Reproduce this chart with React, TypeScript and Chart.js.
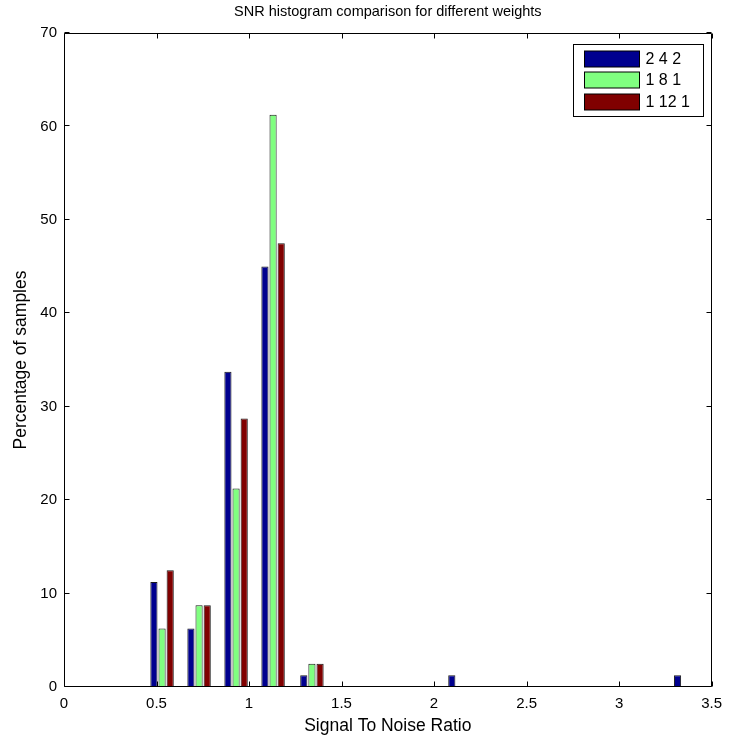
import React, { useEffect, useRef } from 'react';
import { Chart, registerables } from 'chart.js';

Chart.register(...registerables);

// Histogram bin centres (Signal To Noise Ratio)
const binCenters = [0.53, 0.73, 0.93, 1.13, 1.34, 1.54, 1.74, 1.94, 2.14, 2.34, 2.55, 2.75, 2.95, 3.15, 3.36];

// Percentage of samples per bin for each weight set
const weights242 = [11.25, 6.25, 33.75, 45, 1.25, 0, 0, 0, 1.25, 0, 0, 0, 0, 0, 1.25];
const weights181 = [6.25, 8.75, 21.25, 61.25, 2.5, 0, 0, 0, 0, 0, 0, 0, 0, 0, 0];
const weights1121 = [12.5, 8.75, 28.75, 47.5, 2.5, 0, 0, 0, 0, 0, 0, 0, 0, 0, 0];

const seriesLabels = ['2 4 2', '1 8 1', '1 12 1'];
const seriesColors = ['#00008F', '#80FF80', '#800000'];

const xTickValues = [0, 0.5, 1, 1.5, 2, 2.5, 3, 3.5];
const yTickValues = [0, 10, 20, 30, 40, 50, 60, 70];

const chartTitle = 'SNR histogram comparison for different weights';
const xTitle = 'Signal To Noise Ratio';
const yTitle = 'Percentage of samples';

const FONT = '"Liberation Sans", Arial, sans-serif';

const matlabAxesPlugin = {
  id: 'matlabAxes',
  afterDatasetsDraw(chart: any) {
    const { ctx, chartArea, scales } = chart;
    const { left, right, top, bottom } = chartArea;
    const xs = scales.x;
    const ys = scales.y;
    ctx.save();
    ctx.strokeStyle = '#000';
    ctx.lineWidth = 1;
    const L = Math.floor(left) + 0.5;
    const R = Math.ceil(right) - 0.5;
    const T = Math.floor(top) + 0.5;
    const B = Math.ceil(bottom) - 0.5;
    ctx.beginPath();
    ctx.rect(L, T, R - L, B - T);
    ctx.stroke();
    const tl = 5;
    ctx.beginPath();
    xTickValues.forEach((v) => {
      const px = Math.round(xs.getPixelForValue(v)) + 0.5;
      ctx.moveTo(px, B);
      ctx.lineTo(px, B - tl);
      ctx.moveTo(px, T);
      ctx.lineTo(px, T + tl);
    });
    yTickValues.forEach((v) => {
      const py = Math.round(ys.getPixelForValue(v)) - 0.5;
      ctx.moveTo(L, py);
      ctx.lineTo(L + tl, py);
      ctx.moveTo(R, py);
      ctx.lineTo(R - tl, py);
    });
    ctx.stroke();
    ctx.restore();
  },
  afterDraw(chart: any) {
    const { ctx, chartArea } = chart;
    const { left, right, top, bottom } = chartArea;
    ctx.save();
    ctx.fillStyle = '#000';
    ctx.textAlign = 'center';
    ctx.textBaseline = 'middle';
    const cx = (left + right) / 2;
    ctx.font = `14.5px ${FONT}`;
    ctx.fillText(chartTitle, cx, 12);
    ctx.font = `17.5px ${FONT}`;
    ctx.fillText(xTitle, cx, 726);
    ctx.save();
    ctx.translate(21, (top + bottom) / 2);
    ctx.rotate(-Math.PI / 2);
    ctx.fillText(yTitle, 0, 0);
    ctx.restore();

    // legend box
    const boxW = 130;
    const boxH = 72;
    const bx = Math.round(right - 9 - boxW) + 0.5;
    const by = Math.round(top + 11) + 0.5;
    ctx.fillStyle = '#fff';
    ctx.fillRect(bx, by, boxW, boxH);
    ctx.strokeStyle = '#000';
    ctx.lineWidth = 1;
    ctx.strokeRect(bx, by, boxW, boxH);
    ctx.font = `16px ${FONT}`;
    chart.data.datasets.forEach((ds: any, i: number) => {
      const sy = by + 6 + i * 21.7;
      const sx = bx + 11;
      ctx.fillStyle = ds.backgroundColor;
      ctx.fillRect(sx, Math.round(sy), 55, 16);
      ctx.strokeStyle = '#000';
      ctx.strokeRect(sx, Math.round(sy), 55, 16);
      ctx.fillStyle = '#000';
      ctx.textAlign = 'left';
      ctx.textBaseline = 'middle';
      ctx.fillText(ds.label, sx + 61, Math.round(sy) + 8.5);
    });
    ctx.restore();
  },
};

export default function App() {
  const ref = useRef<HTMLCanvasElement | null>(null);

  useEffect(() => {
    document.body.style.margin = '0';
    const canvas = ref.current;
    if (!canvas) return;
    const series = [weights242, weights181, weights1121];
    const chart = new Chart(canvas, {
      type: 'bar',
      data: {
        datasets: series.map((vals, i) => ({
          label: seriesLabels[i],
          data: binCenters.map((x, j) => ({ x, y: vals[j] })),
          backgroundColor: seriesColors[i],
          borderColor: '#1a1a1a',
          borderWidth: 1,
          borderSkipped: false,
          categoryPercentage: 0.66,
          barPercentage: 0.88,
        })),
      },
      options: {
        responsive: false,
        animation: false,
        devicePixelRatio: 1,
        layout: { padding: { top: 33, right: 14, left: 0, bottom: 0 } },
        plugins: {
          legend: { display: false },
          title: { display: false },
          tooltip: { enabled: false },
        },
        scales: {
          x: {
            type: 'linear',
            min: 0,
            max: 3.5,
            offset: false,
            grid: { display: false, drawTicks: false, tickLength: 0 },
            border: { display: false },
            afterBuildTicks: (scale: any) => {
              scale.ticks = xTickValues.map((v) => ({ value: v }));
            },
            afterFit: (scale: any) => {
              scale.height = 51;
            },
            ticks: {
              autoSkip: false,
              maxRotation: 0,
              padding: 8,
              color: '#000',
              font: { family: FONT, size: 15 },
              callback: (v: any) => String(v),
            },
          },
          y: {
            type: 'linear',
            min: 0,
            max: 70,
            grid: { display: false, drawTicks: false, tickLength: 0 },
            border: { display: false },
            afterBuildTicks: (scale: any) => {
              scale.ticks = yTickValues.map((v) => ({ value: v }));
            },
            afterFit: (scale: any) => {
              scale.width = 64;
            },
            ticks: {
              autoSkip: false,
              padding: 7,
              color: '#000',
              font: { family: FONT, size: 15 },
              callback: (v: any) => String(v),
            },
          },
        },
      },
      plugins: [matlabAxesPlugin],
    } as any);
    return () => chart.destroy();
  }, []);

  return (
    <div style={{ position: 'absolute', left: 0, top: 0, width: 730, height: 738, background: '#fff' }}>
      <canvas ref={ref} width={730} height={738} style={{ display: 'block', width: 730, height: 738 }} />
    </div>
  );
}
